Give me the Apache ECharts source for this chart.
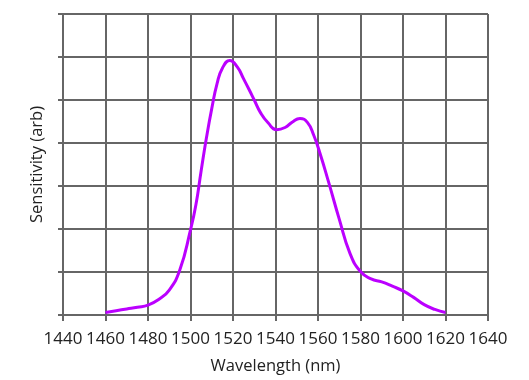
<!DOCTYPE html>
<html>
<head>
<meta charset="utf-8">
<script src="https://cdn.jsdelivr.net/npm/echarts@6/dist/echarts.min.js"></script>
<style>html,body{margin:0;padding:0;background:#fff}#c{width:529px;height:380px}</style>
</head>
<body>
<div id="c"></div>
<script>
var wavelengths = [1460,1465,1470,1475,1480,1485,1490,1495,1500,1502.5,1505,1507.5,1510,1512.5,1515,1518.5,1522,1525,1527.5,1530,1533,1536.5,1540.5,1544.5,1548,1551.5,1555,1558,1561,1565,1570,1575,1580,1585,1590,1595,1600,1605,1610,1615,1620];
var sensitivity = [0.06,0.10,0.14,0.18,0.23,0.36,0.58,1.05,1.98,2.55,3.35,4.12,4.8,5.38,5.74,5.92,5.77,5.49,5.25,5.0,4.70,4.47,4.31,4.36,4.49,4.57,4.48,4.18,3.75,3.09,2.23,1.44,1.01,0.84,0.77,0.67,0.56,0.41,0.24,0.13,0.06];
var xTicks = [1440,1460,1480,1500,1520,1540,1560,1580,1600,1620,1640];
var xName = 'Wavelength (nm)';
var yName = 'Sensitivity (arb)';

var pts = wavelengths.map(function(w,i){return [w, sensitivity[i]];});
var gridStyle = {color:'#666666', width:2};
var chart = echarts.init(document.getElementById('c'));
chart.setOption({
  animation:false,
  textStyle:{fontFamily:'Open Sans'},
  grid:{left:63,right:41,top:14,bottom:65},
  xAxis:{
    type:'value', min:xTicks[0], max:xTicks[xTicks.length-1], interval:20,
    name:xName, nameLocation:'middle', nameGap:43,
    nameTextStyle:{fontSize:16.5,color:'#222',fontFamily:'Open Sans'},
    axisLine:{show:true,lineStyle:gridStyle},
    axisTick:{show:true,length:6,lineStyle:gridStyle},
    axisLabel:{fontSize:17,color:'#222',margin:16,fontFamily:'Open Sans',
      formatter:function(v){return String(v);}},
    splitLine:{show:true,lineStyle:gridStyle}
  },
  yAxis:{
    type:'value', min:0, max:7, interval:1,
    name:yName, nameLocation:'middle', nameGap:17,
    nameTextStyle:{fontSize:16.5,color:'#222',fontFamily:'Open Sans'},
    axisLine:{show:true,lineStyle:gridStyle},
    axisTick:{show:true,length:5,lineStyle:gridStyle},
    axisLabel:{show:false},
    splitLine:{show:true,lineStyle:gridStyle}
  },
  series:[{
    type:'line', data:pts, smooth:0.5, symbol:'none',
    lineStyle:{color:'#bb00ff',width:3}
  }]
});
</script>
</body>
</html>
